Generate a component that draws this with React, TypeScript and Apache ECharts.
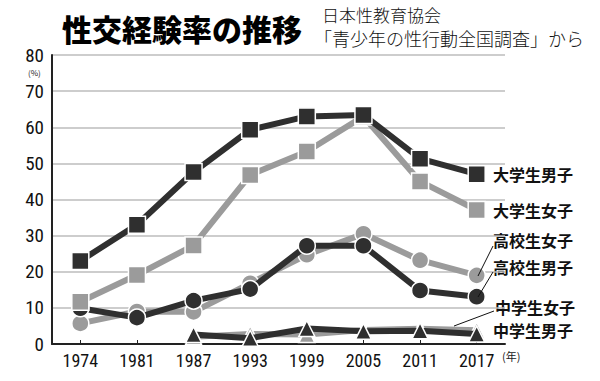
import React, { useEffect, useRef } from "react";
import * as echarts from "echarts";

const years = ["1974", "1981", "1987", "1993", "1999", "2005", "2011", "2017"];
const yTicks = [0, 10, 20, 30, 40, 50, 60, 70, 80];

const univMale = [23.0, 33.0, 47.6, 59.3, 63.0, 63.4, 51.3, 47.0];
const univFemale = [11.7, 19.1, 27.3, 46.8, 53.3, 63.0, 45.0, 37.1];
const highMale = [9.9, 7.3, 12.0, 15.2, 27.2, 27.2, 14.8, 13.1];
const highFemale = [5.7, 9.0, 8.9, 16.8, 24.7, 30.5, 23.2, 19.0];
const juniorMale: (number | null)[] = [null, null, 2.6, 1.6, 4.3, 3.5, 3.7, 2.8];
const juniorFemale: (number | null)[] = [null, null, 2.0, 2.8, 2.6, 3.9, 4.2, 3.8];

const DARK = "#2f2f2f";
const LIGHT = "#9b9b9b";
const NARROW = "'Liberation Sans Narrow', 'Roboto Condensed', 'Liberation Sans', Arial, sans-serif";
const JP = "'Noto Sans CJK JP', 'Noto Sans CJK SC', sans-serif";

function mk(name: string, data: (number | null)[], color: string, symbol: string, size: number, z: number) {
  return {
    name,
    type: "line",
    data,
    z,
    symbol,
    symbolSize: size,
    showAllSymbol: true,
    lineStyle: { color, width: 6 },
    itemStyle: { color, borderColor: "#ffffff", borderWidth: 1.5, opacity: 1 },
    emphasis: { disabled: true },
  };
}

export default function App() {
  const ref = useRef<HTMLDivElement>(null);
  useEffect(() => {
    if (!ref.current) return;
    const chart = echarts.init(ref.current, undefined, { renderer: "svg" });
    const labelStyle = { fill: "#111", font: `bold 16px ${JP}` };
    chart.setOption({
      animation: false,
      backgroundColor: "#ffffff",
      grid: { left: 52, right: 95, top: 55, bottom: 37 },
      xAxis: {
        type: "category",
        data: years,
        boundaryGap: true,
        axisLine: { lineStyle: { color: "#222", width: 2 } },
        axisTick: { show: true, inside: true, alignWithLabel: true, length: 4, lineStyle: { color: "#222", width: 1 } },
        axisLabel: { color: "#111", fontSize: 18, fontFamily: NARROW, margin: 7 },
        splitLine: { show: false },
      },
      yAxis: {
        type: "value",
        min: yTicks[0],
        max: yTicks[yTicks.length - 1],
        interval: 10,
        axisLine: { show: true, lineStyle: { color: "#222", width: 2 } },
        axisTick: { show: false },
        axisLabel: { color: "#111", fontSize: 19, fontFamily: NARROW, margin: 8 },
        splitLine: { show: true, lineStyle: { color: "#bdbdbd", width: 1.5 } },
      },
      series: [
        mk("中学生女子", juniorFemale, LIGHT, "triangle", 16, 2),
        mk("中学生男子", juniorMale, DARK, "triangle", 16, 3),
        mk("高校生女子", highFemale, LIGHT, "circle", 17, 4),
        mk("高校生男子", highMale, DARK, "circle", 17, 5),
        mk("大学生女子", univFemale, LIGHT, "rect", 17, 6),
        mk("大学生男子", univMale, DARK, "rect", 17, 7),
      ],
      graphic: [
        { type: "text", left: 62, top: 13, style: { text: "性交経験率の推移", fill: "#000", font: `900 30px ${JP}` } },
        { type: "text", left: 322, top: 6, style: { text: "日本性教育協会", fill: "#111", font: `300 17px ${JP}` } },
        { type: "text", left: 314, top: 29, style: { text: "「青少年の性行動全国調査」から", fill: "#111", font: `300 18px ${JP}` } },
        { type: "text", left: 28, top: 68, style: { text: "(%)", fill: "#222", font: `8px ${JP}` } },
        { type: "text", left: 502, top: 350, style: { text: "(年)", fill: "#222", font: `11px ${JP}` } },
        { type: "text", left: 493, top: 166, style: { text: "大学生男子", ...labelStyle } },
        { type: "text", left: 493, top: 202, style: { text: "大学生女子", ...labelStyle } },
        { type: "text", left: 493, top: 232, style: { text: "高校生女子", ...labelStyle } },
        { type: "text", left: 493, top: 259, style: { text: "高校生男子", ...labelStyle } },
        { type: "text", left: 495, top: 299, style: { text: "中学生女子", ...labelStyle } },
        { type: "text", left: 493, top: 322, style: { text: "中学生男子", ...labelStyle } },
        { type: "line", shape: { x1: 478, y1: 276, x2: 493, y2: 246 }, style: { stroke: "#111", lineWidth: 1 }, z: 100 },
        { type: "line", shape: { x1: 478, y1: 297, x2: 493, y2: 272 }, style: { stroke: "#111", lineWidth: 1 }, z: 100 },
        { type: "line", shape: { x1: 454, y1: 326, x2: 494, y2: 311 }, style: { stroke: "#111", lineWidth: 1 }, z: 100 },
      ],
    });
    return () => chart.dispose();
  }, []);
  return <div ref={ref} style={{ width: 600, height: 381, position: "absolute", left: 0, top: 0 }} />;
}
